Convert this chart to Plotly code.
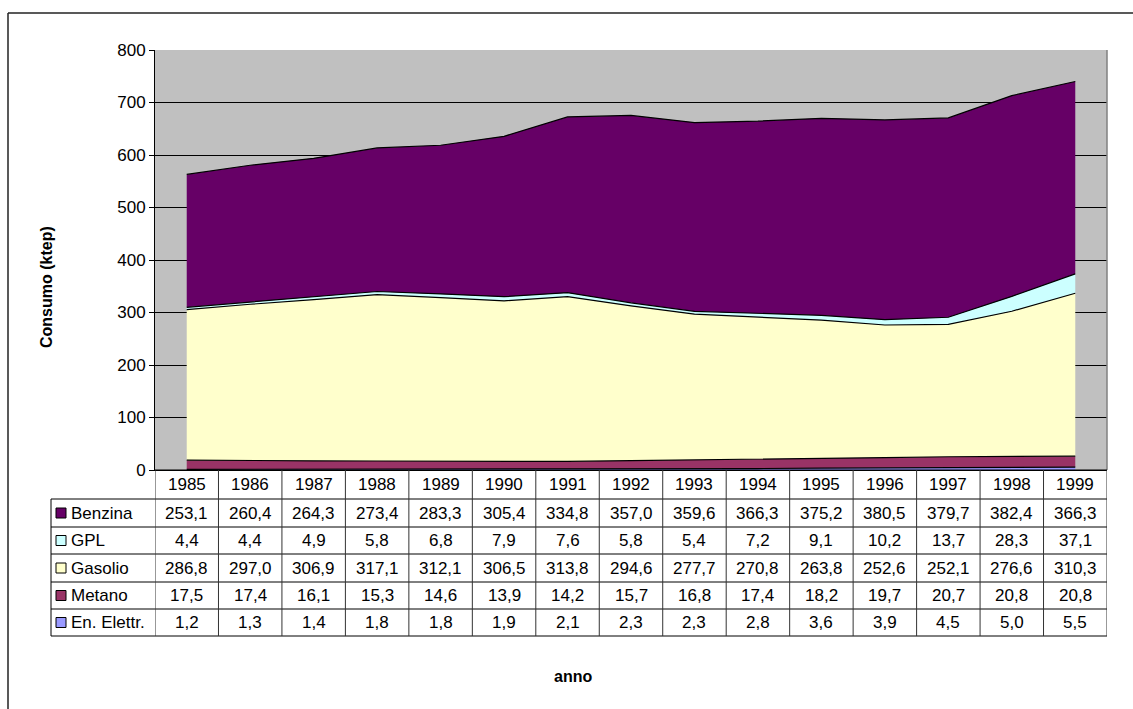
import plotly.graph_objects as go

# Annual consumption (ktep) by energy source
anni = ["1985", "1986", "1987", "1988", "1989", "1990", "1991", "1992",
        "1993", "1994", "1995", "1996", "1997", "1998", "1999"]
benzina = [253.1, 260.4, 264.3, 273.4, 283.3, 305.4, 334.8, 357.0,
           359.6, 366.3, 375.2, 380.5, 379.7, 382.4, 366.3]
gpl = [4.4, 4.4, 4.9, 5.8, 6.8, 7.9, 7.6, 5.8, 5.4, 7.2, 9.1, 10.2, 13.7, 28.3, 37.1]
gasolio = [286.8, 297.0, 306.9, 317.1, 312.1, 306.5, 313.8, 294.6,
           277.7, 270.8, 263.8, 252.6, 252.1, 276.6, 310.3]
metano = [17.5, 17.4, 16.1, 15.3, 14.6, 13.9, 14.2, 15.7, 16.8, 17.4,
          18.2, 19.7, 20.7, 20.8, 20.8]
elettr = [1.2, 1.3, 1.4, 1.8, 1.8, 1.9, 2.1, 2.3, 2.3, 2.8, 3.6, 3.9, 4.5, 5.0, 5.5]

# Stack order bottom -> top
serie = [
    ("En. Elettr.", elettr, "#9999FF"),
    ("Metano", metano, "#993366"),
    ("Gasolio", gasolio, "#FFFFCC"),
    ("GPL", gpl, "#CCFFFF"),
    ("Benzina", benzina, "#660066"),
]
# Table row order (top -> bottom)
righe_tabella = list(reversed(serie))

W, H = 1133, 709
FONT = "Liberation Sans, Arial, sans-serif"
FS = 17


def px(x):
    return x / W


def py(y):
    return 1 - y / H


PLOT_L, PLOT_R, PLOT_T, PLOT_B = 155, 1107, 50, 470
ROW_EDGES = [470, 499, 527, 554, 582, 609, 636]
TAB_L = 51

fig = go.Figure()
for nome, valori, colore in serie:
    fig.add_trace(go.Scatter(
        x=anni, y=valori, name=nome, mode="lines",
        stackgroup="uno", fillcolor=colore,
        line=dict(color="black", width=1.2),
        showlegend=False,
    ))

shapes = []
annotations = []


def testo(x, y, t, xref="paper", xanchor="center", **kw):
    annotations.append(dict(x=x, y=y, xref=xref, yref="paper", text=t,
                            showarrow=False, xanchor=xanchor,
                            yanchor="middle", **kw))


# Outer chart frame (top and left edges visible)
shapes.append(dict(type="line", xref="paper", yref="paper",
                   x0=px(8), x1=px(1140), y0=py(13), y1=py(13),
                   line=dict(color="#222222", width=1.5)))
shapes.append(dict(type="line", xref="paper", yref="paper",
                   x0=px(8), x1=px(8), y0=py(13), y1=py(720),
                   line=dict(color="#222222", width=1.5)))

# Plot area right border
shapes.append(dict(type="line", xref="paper", yref="paper",
                   x0=px(PLOT_R), x1=px(PLOT_R), y0=py(PLOT_T), y1=py(PLOT_B),
                   line=dict(color="#808080", width=1.5)))

# Data table: horizontal rules
for i, yy in enumerate(ROW_EDGES):
    x0 = PLOT_L if i == 0 else TAB_L
    shapes.append(dict(type="line", xref="paper", yref="paper",
                       x0=px(x0), x1=px(PLOT_R), y0=py(yy), y1=py(yy),
                       line=dict(color="black", width=1)))
# Data table: column separators on category boundaries
for k in range(len(anni) + 1):
    shapes.append(dict(type="line", xref="x", yref="paper",
                       x0=k - 0.5, x1=k - 0.5,
                       y0=py(ROW_EDGES[0]), y1=py(ROW_EDGES[-1]),
                       line=dict(color="#333333", width=1)))
# Legend column left edge
shapes.append(dict(type="line", xref="paper", yref="paper",
                   x0=px(TAB_L), x1=px(TAB_L),
                   y0=py(ROW_EDGES[1]), y1=py(ROW_EDGES[-1]),
                   line=dict(color="black", width=1)))

cell_font = dict(family=FONT, size=FS, color="black")

# Year header row (category positions by index)
yc = (ROW_EDGES[0] + ROW_EDGES[1]) / 2
for i, a in enumerate(anni):
    testo(i, py(yc), a, xref="x", font=cell_font)

# Value rows with legend keys
for r, (nome, valori, colore) in enumerate(righe_tabella):
    top, bot = ROW_EDGES[r + 1], ROW_EDGES[r + 2]
    yc = (top + bot) / 2
    shapes.append(dict(type="rect", xref="paper", yref="paper",
                       x0=px(56), x1=px(66), y0=py(yc - 5), y1=py(yc + 5),
                       fillcolor=colore, line=dict(color="black", width=1)))
    testo(px(69), py(yc), nome, xanchor="left", font=cell_font)
    for i, v in enumerate(valori):
        testo(i, py(yc), f"{v:.1f}".replace(".", ","), xref="x", font=cell_font)

# Axis titles
title_font = dict(family=FONT, size=16, color="black")
testo(px(46), py(287), "<b>Consumo (ktep)</b>", textangle=-90, font=title_font)
testo(px(573), py(676), "<b>anno</b>", font=title_font)

fig.update_layout(
    width=W, height=H,
    margin=dict(l=0, r=0, t=0, b=0, autoexpand=False),
    paper_bgcolor="white",
    plot_bgcolor="#C0C0C0",
    showlegend=False,
    shapes=shapes,
    annotations=annotations,
    xaxis=dict(
        domain=[px(PLOT_L), px(PLOT_R)],
        type="category", range=[-0.5, len(anni) - 0.5],
        showticklabels=False, ticks="", showgrid=False,
        showline=True, linecolor="black", linewidth=1,
        zeroline=False, fixedrange=True, automargin=False,
    ),
    yaxis=dict(
        domain=[py(PLOT_B), py(PLOT_T)],
        range=[0, 800], dtick=100,
        showgrid=True, gridcolor="black", gridwidth=1,
        showline=True, linecolor="black", linewidth=1,
        ticks="outside", ticklen=5, tickcolor="black",
        tickfont=dict(family=FONT, size=FS, color="black"),
        zeroline=False, fixedrange=True, automargin=False,
    ),
)

fig.write_html("out.html")
